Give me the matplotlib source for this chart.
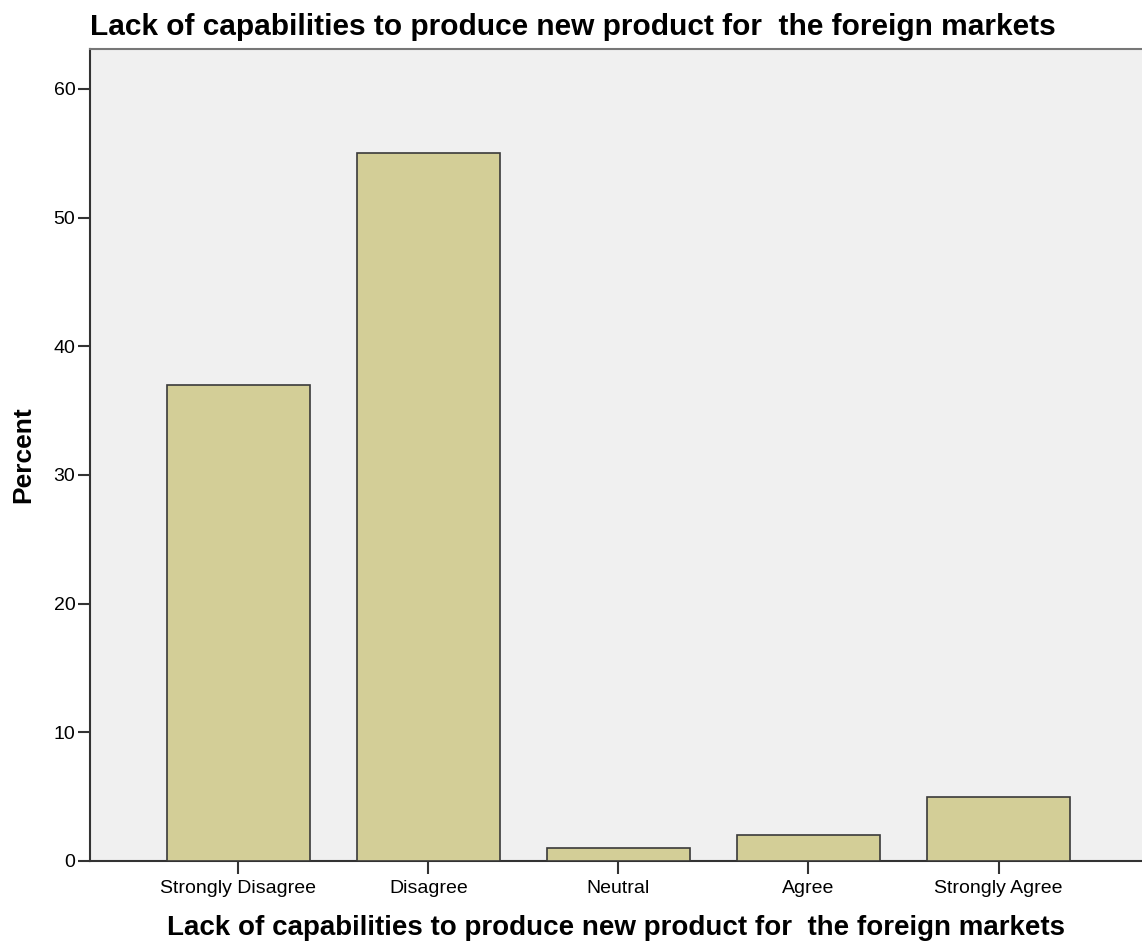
import matplotlib
matplotlib.use("Agg")
import matplotlib.pyplot as plt

categories = ["Strongly Disagree", "Disagree", "Neutral", "Agree", "Strongly Agree"]
percent = [37, 55, 1, 2, 5]
yticks = [0, 10, 20, 30, 40, 50, 60]
title = "Lack of capabilities to produce new product for  the foreign markets"

plt.rcParams['font.family'] = ['Liberation Sans', 'DejaVu Sans']

fig = plt.figure(figsize=(11.42, 9.52), dpi=100)
ax = fig.add_axes([0.0788, 0.0956, 0.9212, 0.8529])
ax.set_facecolor('#f0f0f0')

x = list(range(len(categories)))
ax.bar(x, percent, width=0.75, color='#d3ce97', edgecolor='#3a3a3a', linewidth=1.2, zorder=3)

ax.set_xlim(-0.78, 4.755)
ax.set_ylim(0, 63.1)
ax.set_xticks(x)
ax.set_xticklabels(categories, fontsize=14)
ax.set_yticks(yticks)
ax.set_yticklabels([str(v) for v in yticks], fontsize=14)
ax.tick_params(axis='both', direction='out', length=9, width=1.5, color='#333333')
ax.tick_params(axis='y', pad=1.5)
ax.tick_params(axis='x', pad=5)

for s in ['left', 'bottom']:
    ax.spines[s].set_color('#333333')
    ax.spines[s].set_linewidth(1.5)
ax.spines['top'].set_color('#777777')
ax.spines['top'].set_linewidth(1.5)
ax.spines['right'].set_visible(False)

ax.set_ylabel("Percent", fontsize=19, fontweight='bold')
ax.yaxis.set_label_coords(-0.052, 0.5)
ax.set_xlabel(title, fontsize=20, fontweight='bold')
ax.xaxis.set_label_coords(0.5, -0.067)
fig.text(0.0788, 0.972, title, fontsize=21.5, fontweight='bold', ha='left', va='center')

fig.savefig("out.png", dpi=100)
